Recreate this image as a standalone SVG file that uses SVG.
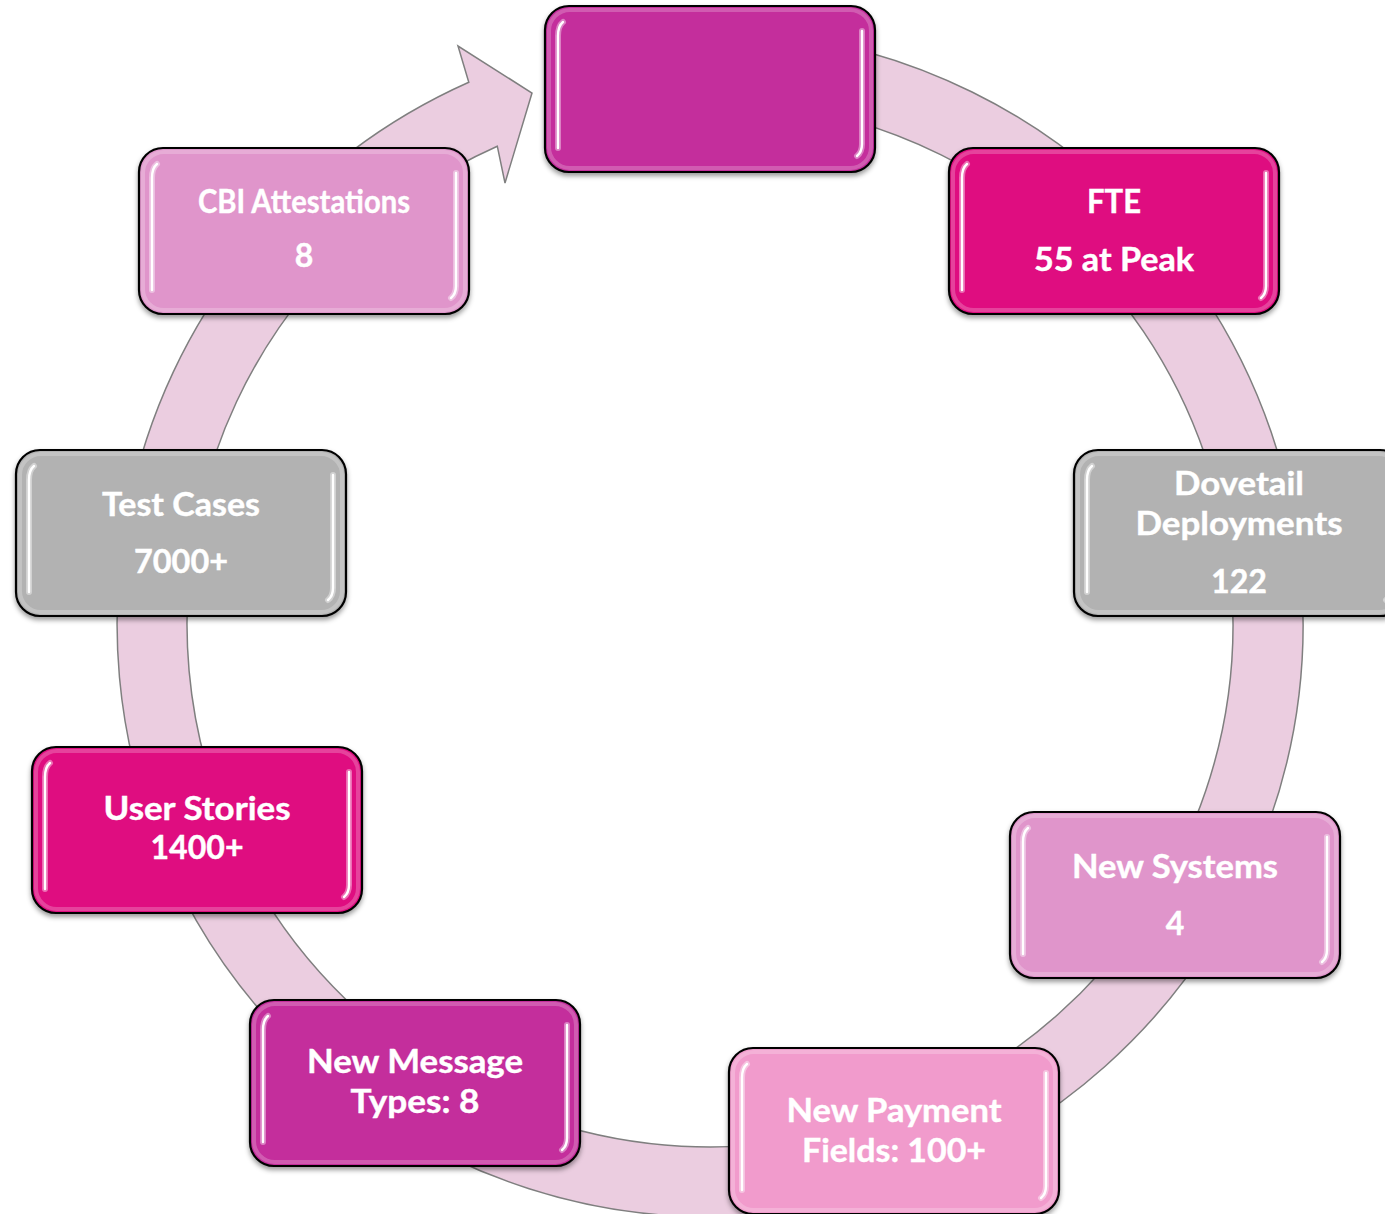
<svg xmlns="http://www.w3.org/2000/svg" xmlns:xlink="http://www.w3.org/1999/xlink" width="1385" height="1214" viewBox="0 0 1385 1214">
<style>
.ring{fill:#EBCDE0;stroke:#7F7F7F;stroke-width:1.5;stroke-linejoin:miter}
.box{stroke:#000;stroke-width:2.2;filter:url(#sh)}
.purple{fill:#C42D9C}
.magenta{fill:#DF0A80}
.grey{fill:#B2B2B2}
.orchid{fill:#E095CB}
.pink{fill:#F19BCC}
.rim{fill:none;stroke:#fff;stroke-opacity:0.22;stroke-width:4}
.hlg{fill:none;stroke:#fff;stroke-opacity:0.4;stroke-width:6;stroke-linecap:round}
.hl{fill:none;stroke:#fff;stroke-width:2.4;stroke-linecap:round}
.t{font-family:Lato,"Liberation Sans",sans-serif;font-weight:700;fill:#fff;stroke:#fff;stroke-width:0.4;text-anchor:middle;font-size:32px}
</style>
<defs>
<filter id="sh" x="-10%" y="-10%" width="120%" height="130%">
<feDropShadow dx="0" dy="3" stdDeviation="2.5" flood-color="#000" flood-opacity="0.4"/>
</filter>
<g id="gloss">
<rect x="4" y="4" width="322" height="158" rx="21" class="rim"/>
<path class="hlg" d="M18 16 Q13 20 13 30 V142"/>
<path class="hlg" d="M317 25 V138 Q317 146 312 150"/>
<path class="hl" d="M18 16 Q13 20 13 30 V142"/>
<path class="hl" d="M317 25 V138 Q317 146 312 150"/>
</g>
</defs>

<g id="connectors">
<path class="ring" d="M710 31 A593 593 0 1 1 468.8 82.3 L458 46 L532 93 L505 183 L497.3 146.2 A523 523 0 1 0 710 101 Z"/>
</g>

<g id="n-top" transform="translate(545 6)">
<rect class="box purple" width="330" height="166" rx="24"/>
<use href="#gloss"/>
</g>

<g id="n-fte" transform="translate(949 148)">
<rect class="box magenta" width="330" height="166" rx="24"/>
<use href="#gloss"/>
<text class="t" x="165" y="65" font-size="30" textLength="54" lengthAdjust="spacingAndGlyphs">FTE</text>
<text class="t" x="165" y="123" font-size="33" textLength="160" lengthAdjust="spacingAndGlyphs">55 at Peak</text>
</g>

<g id="n-dovetail" transform="translate(1074 450)">
<rect class="box grey" width="330" height="166" rx="24"/>
<use href="#gloss"/>
<text class="t" x="165" y="45" textLength="130" lengthAdjust="spacingAndGlyphs">Dovetail</text>
<text class="t" x="165" y="85" textLength="207" lengthAdjust="spacingAndGlyphs">Deployments</text>
<text class="t" x="165" y="143" textLength="56" lengthAdjust="spacingAndGlyphs">122</text>
</g>

<g id="n-newsystems" transform="translate(1010 812)">
<rect class="box orchid" width="330" height="166" rx="24"/>
<use href="#gloss"/>
<text class="t" x="165" y="66" textLength="206" lengthAdjust="spacingAndGlyphs">New Systems</text>
<text class="t" x="165" y="123">4</text>
</g>

<g id="n-newpayment" transform="translate(729 1048)">
<rect class="box pink" width="330" height="166" rx="24"/>
<use href="#gloss"/>
<text class="t" x="165" y="74" font-size="33" textLength="215" lengthAdjust="spacingAndGlyphs">New Payment</text>
<text class="t" x="165" y="114" font-size="33" textLength="184" lengthAdjust="spacingAndGlyphs">Fields: 100+</text>
</g>

<g id="n-newmessage" transform="translate(250 1000)">
<rect class="box purple" width="330" height="166" rx="24"/>
<use href="#gloss"/>
<text class="t" x="165" y="73" textLength="216" lengthAdjust="spacingAndGlyphs">New Message</text>
<text class="t" x="165" y="113" textLength="129" lengthAdjust="spacingAndGlyphs">Types: 8</text>
</g>

<g id="n-userstories" transform="translate(32 747)">
<rect class="box magenta" width="330" height="166" rx="24"/>
<use href="#gloss"/>
<text class="t" x="165" y="73" textLength="187" lengthAdjust="spacingAndGlyphs">User Stories</text>
<text class="t" x="165" y="112" textLength="93" lengthAdjust="spacingAndGlyphs">1400+</text>
</g>

<g id="n-testcases" transform="translate(16 450)">
<rect class="box grey" width="330" height="166" rx="24"/>
<use href="#gloss"/>
<text class="t" x="165" y="66" textLength="158" lengthAdjust="spacingAndGlyphs">Test Cases</text>
<text class="t" x="165" y="123" textLength="94" lengthAdjust="spacingAndGlyphs">7000+</text>
</g>

<g id="n-cbi" transform="translate(139 148)">
<rect class="box orchid" width="330" height="166" rx="24"/>
<use href="#gloss"/>
<text class="t" x="165" y="65" font-size="27" textLength="212" lengthAdjust="spacingAndGlyphs">CBI Attestations</text>
<text class="t" x="165" y="119" font-size="33">8</text>
</g>
</svg>
